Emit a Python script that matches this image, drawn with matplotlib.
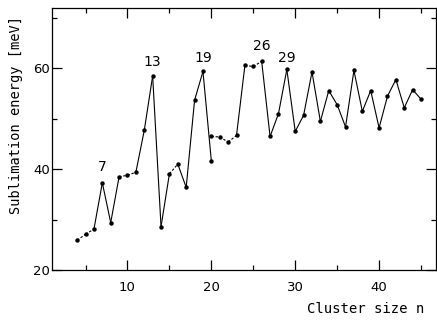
import matplotlib
matplotlib.use("Agg")
import matplotlib.pyplot as plt
from matplotlib.ticker import MultipleLocator

# Series A: n = 4 .. 20 (lower branch at n=20)
n_a = [4, 5, 6, 7, 8, 9, 10, 11, 12, 13, 14, 15, 16, 17, 18, 19, 20]
e_a = [25.9, 27.1, 28.1, 37.3, 29.4, 38.5, 38.8, 39.4, 47.7, 58.5,
       28.6, 39.1, 41.0, 36.4, 53.7, 59.4, 41.6]
# Series B: n = 20 .. 45 (upper branch at n=20)
n_b = [20, 21, 22, 23, 24, 25, 26, 27, 28, 29, 30, 31, 32, 33, 34, 35,
       36, 37, 38, 39, 40, 41, 42, 43, 44, 45]
e_b = [46.5, 46.4, 45.4, 46.7, 60.6, 60.4, 61.4, 46.5, 51.0, 59.8, 47.5,
       50.7, 59.3, 49.5, 55.6, 52.8, 48.4, 59.6, 51.5, 55.6, 48.2, 54.5,
       57.8, 52.2, 55.8, 53.9]
# segments drawn dashed (start n of each segment)
dashed_a = [4, 5, 9, 10, 15]
dashed_b = [20, 21, 22, 24, 25]

magic_n = [7, 13, 19, 26, 29]
magic_labels = ["7", "13", "19", "26", "29"]
label_e = [40.4, 61.3, 62.1, 64.4, 62.1]

fig = plt.figure(figsize=(4.37, 3.21), dpi=100)
ax = fig.add_axes([0.119, 0.159, 0.879, 0.816])

def draw(ns, es, dashed):
    for i in range(len(ns) - 1):
        ls = (0, (2.2, 1.6)) if ns[i] in dashed else "-"
        ax.plot(ns[i:i + 2], es[i:i + 2], color="black", lw=0.8, ls=ls,
                solid_capstyle="butt")
    ax.plot(ns, es, "o", color="black", ms=3.2, mew=0)

draw(n_a, e_a, dashed_a)
draw(n_b, e_b, dashed_b)

for x, t, y in zip(magic_n, magic_labels, label_e):
    ax.text(x, y, t, ha="center", va="center", fontsize=10,
            family="DejaVu Sans")

ax.set_xlim(1, 46.8)
ax.set_ylim(20, 72)
ax.xaxis.set_major_locator(MultipleLocator(10))
ax.xaxis.set_minor_locator(MultipleLocator(5))
ax.yaxis.set_major_locator(MultipleLocator(20))
ax.yaxis.set_minor_locator(MultipleLocator(10))
ax.tick_params(which="both", direction="in", top=True, right=True,
               width=0.9, labelsize=9.5)
ax.tick_params(which="major", length=7)
ax.tick_params(which="minor", length=3.5)
ax.tick_params(axis="x", which="major", pad=8)
ax.tick_params(axis="y", which="major", pad=1.5)
for s in ax.spines.values():
    s.set_linewidth(0.9)

fig.text(0.970, 0.037, "Cluster size n", fontsize=10,
         family="DejaVu Sans Mono", ha="right", va="center")
fig.text(0.037, 0.642, "Sublimation energy [meV]", fontsize=9.8,
         family="DejaVu Sans Mono", ha="center", va="center", rotation=90)

fig.savefig("out.png", dpi=100)
